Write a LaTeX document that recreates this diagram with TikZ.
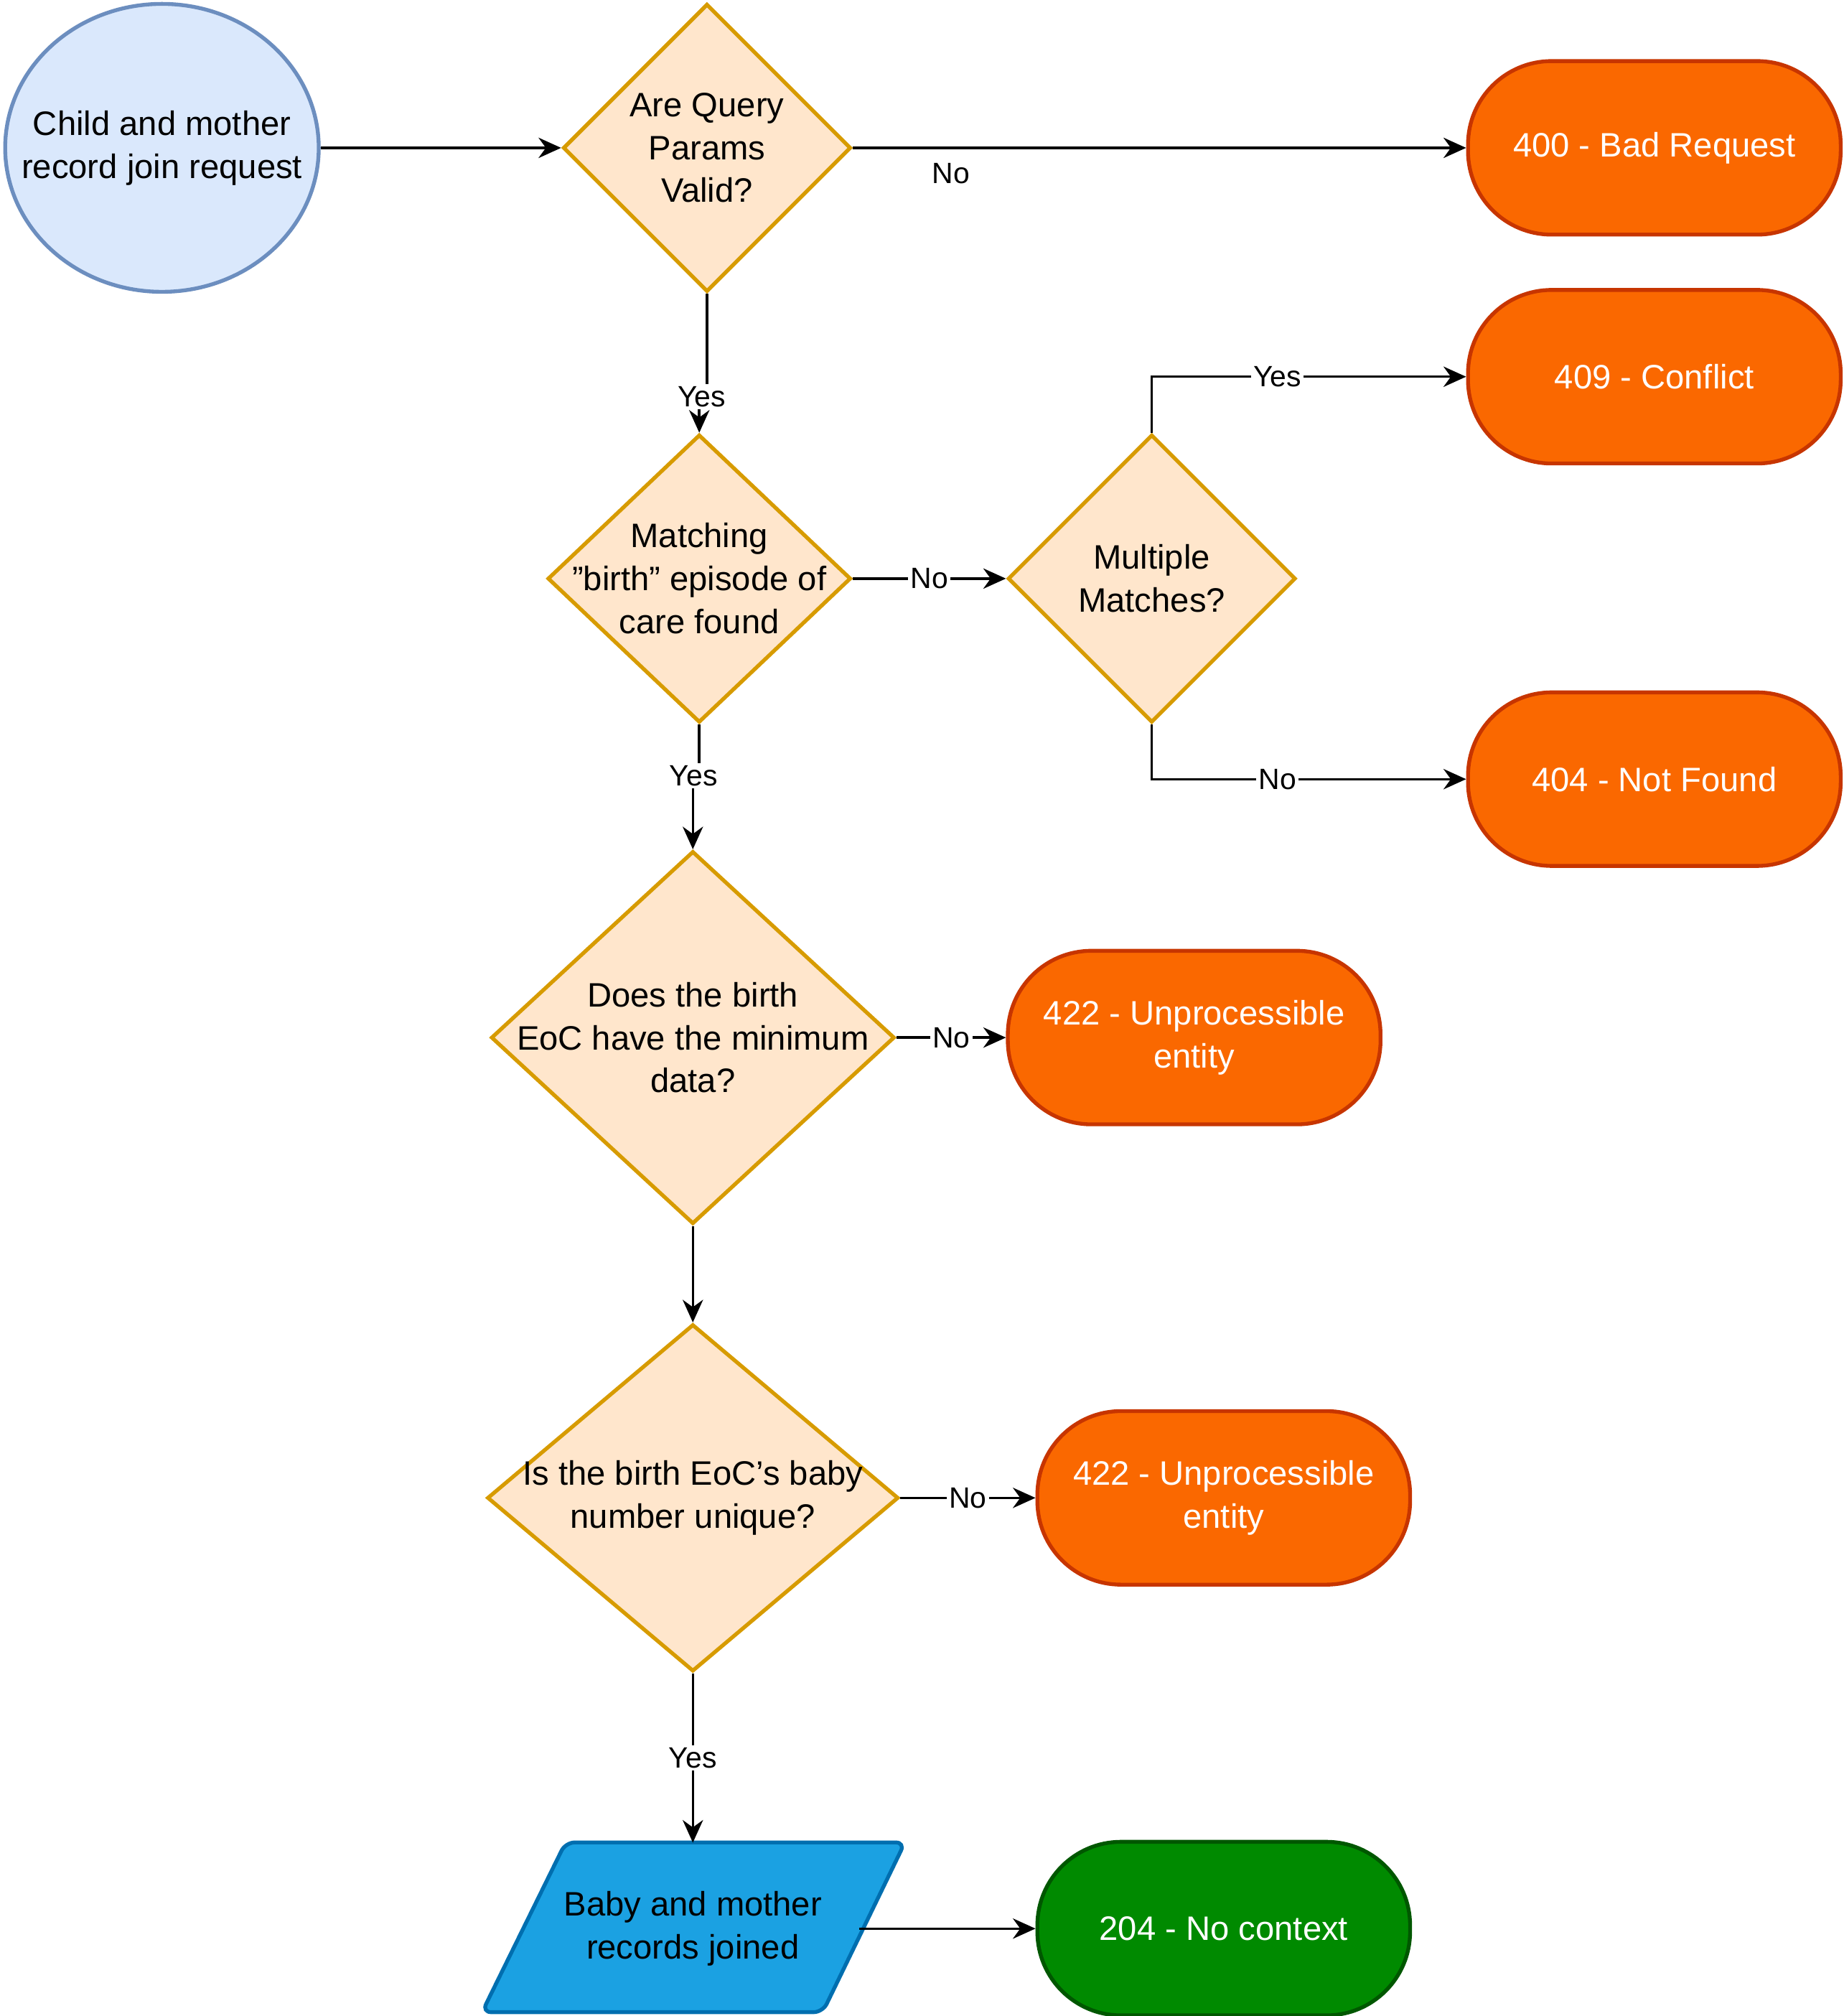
\documentclass[tikz,border=0pt]{standalone}
\usepackage{fontspec}
\setmainfont{Liberation Sans}
\usetikzlibrary{shapes.geometric,arrows.meta}
\definecolor{startfill}{HTML}{DAE8FC}
\definecolor{startdraw}{HTML}{6C8EBF}
\definecolor{askfill}{HTML}{FFE6CC}
\definecolor{askdraw}{HTML}{D79B00}
\definecolor{errfill}{HTML}{FA6800}
\definecolor{errdraw}{HTML}{C73500}
\definecolor{okfill}{HTML}{008A00}
\definecolor{okdraw}{HTML}{005700}
\definecolor{iofill}{HTML}{1BA1E2}
\definecolor{iodraw}{HTML}{006EAF}
\tikzset{
  ask/.style={diamond,draw=askdraw,fill=askfill,line width=1.7pt,inner sep=-40pt,align=center,font=\fontsize{15}{19}\selectfont},
  result/.style={rectangle,rounded corners=1.3cm,line width=1.7pt,minimum width=5.8cm,minimum height=2.7cm,align=center,text=white,font=\fontsize{15}{19}\selectfont},
  flow/.style={line width=1.1pt,-{Stealth[length=10pt,width=9pt]}},
  lbl/.style={fill=white,inner sep=1pt,font=\fontsize{13}{15}\selectfont}
}
\begin{document}
\begin{tikzpicture}[x=0.02cm,y=-0.02cm]
\useasboundingbox (0,0) rectangle (1434,1568);

\node[ellipse,draw=startdraw,fill=startfill,line width=1.7pt,inner sep=-30pt,minimum width=4.88cm,minimum height=4.48cm,align=center,font=\fontsize{15}{19}\selectfont] (req) at (126,115) {Child and mother\\record join request};

\node[ask,minimum width=4.48cm,minimum height=4.48cm] (params) at (550,115) {Are Query\\Params\\Valid?};
\node[ask,minimum width=4.72cm,minimum height=4.48cm] (match) at (544,450) {Matching\\"birth" episode of\\care found};
\node[ask,minimum width=4.48cm,minimum height=4.48cm] (multi) at (896,450) {Multiple\\Matches?};
\node[ask,minimum width=6.28cm,minimum height=5.8cm] (mindata) at (539,807) {Does the birth\\EoC have the minimum\\data?};
\node[ask,minimum width=6.4cm,minimum height=5.4cm] (unique) at (539,1165) {Is the birth EoC's baby\\number unique?};

\node[result,fill=errfill,draw=errdraw] (bad) at (1287,115) {400 - Bad Request};
\node[result,fill=errfill,draw=errdraw] (conflict) at (1287,293) {409 - Conflict};
\node[result,fill=errfill,draw=errdraw] (notfound) at (1287,606) {404 - Not Found};
\node[result,fill=errfill,draw=errdraw] (unproca) at (929,807) {422 - Unprocessible\\entity};
\node[result,fill=errfill,draw=errdraw] (unprocb) at (952,1165) {422 - Unprocessible\\entity};
\node[result,fill=okfill,draw=okdraw] (nocontext) at (952,1500) {204 - No context};

% parallelogram drawn round the node
\draw[draw=iodraw,fill=iofill,line width=1.7pt,rounded corners=4pt]
  (375,1565) -- (440,1433) -- (704,1433) -- (640,1565) -- cycle;
\node[minimum width=5.16cm,minimum height=2.66cm,inner sep=0pt,align=center,font=\fontsize{15}{19}\selectfont] (joined) at (539,1500) {Baby and mother\\records joined};

\draw[flow] (req) -- (params);
\draw[flow] (params) -- (bad) node[pos=0.16,below=3pt,font=\fontsize{13}{15}\selectfont]{No};
\draw[flow] (params.south) -- ++(0,80) -| (match.north) node[pos=0.35,lbl]{Yes};
\draw[flow] (match) -- (multi) node[midway,lbl]{No};
\draw[flow] (multi.north) |- (conflict) node[pos=0.7,lbl]{Yes};
\draw[flow] (multi.south) |- (notfound) node[pos=0.7,lbl]{No};
\draw[flow] (match.south) -- ++(0,40) -| (mindata.north) node[pos=0.45,lbl]{Yes};
\draw[flow] (mindata) -- (unproca) node[midway,lbl]{No};
\draw[flow] (mindata) -- (unique);
\draw[flow] (unique) -- (unprocb) node[midway,lbl]{No};
\draw[flow] (unique) -- (joined) node[midway,lbl]{Yes};
\draw[flow] (joined) -- (nocontext);
\end{tikzpicture}
\end{document}
